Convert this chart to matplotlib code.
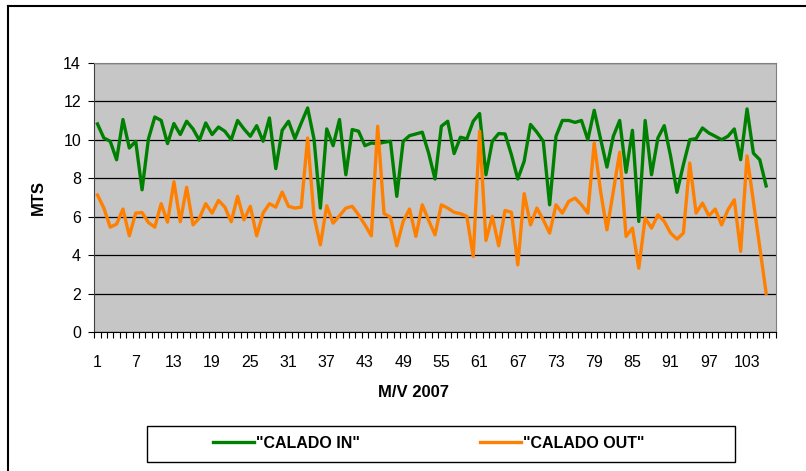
import matplotlib
matplotlib.use("Agg")
import matplotlib.pyplot as plt
from matplotlib.lines import Line2D
from matplotlib.patches import Rectangle
from matplotlib.ticker import FixedLocator, NullFormatter

plt.rcParams["font.family"] = ["Liberation Sans", "DejaVu Sans"]

# values, one per M/V (1..106)
calado_in = [
    10.82, 10.09, 9.92, 8.96, 11.05, 9.57, 9.92, 7.40, 10.04, 11.18,
    11.00, 9.80, 10.84, 10.27, 10.96, 10.56, 9.97, 10.87, 10.27, 10.66,
    10.44, 10.00, 11.00, 10.56, 10.18, 10.73, 9.92, 11.13, 8.50, 10.49,
    10.96, 10.06, 10.87, 11.65, 10.04, 6.45, 10.56, 9.69, 11.05, 8.18,
    10.53, 10.44, 9.69, 9.83, 9.80, 9.87, 9.92, 7.06, 9.92, 10.21,
    10.30, 10.39, 9.31, 7.96, 10.70, 10.96, 9.28, 10.13, 10.04, 10.96,
    11.36, 8.18, 9.92, 10.32, 10.30, 9.22, 7.96, 8.88, 10.79, 10.39,
    9.92, 6.62, 10.18, 11.00, 11.00, 10.90, 11.00, 10.00, 11.53, 10.04,
    8.58, 10.18, 11.00, 8.31, 10.49, 5.76, 11.00, 8.18, 10.09, 10.73,
    9.14, 7.27, 8.70, 10.00, 10.06, 10.61, 10.35, 10.18, 10.00, 10.18,
    10.56, 8.96, 11.60, 9.30, 8.96, 7.60,
]
calado_out = [
    7.13, 6.45, 5.46, 5.62, 6.40, 5.01, 6.19, 6.22, 5.70, 5.46,
    6.68, 5.72, 7.82, 5.74, 7.53, 5.58, 5.93, 6.68, 6.19, 6.85,
    6.50, 5.74, 7.06, 5.84, 6.54, 5.01, 6.19, 6.68, 6.50, 7.28,
    6.54, 6.45, 6.50, 10.09, 6.02, 4.54, 6.57, 5.67, 6.05, 6.45,
    6.54, 6.10, 5.58, 5.01, 10.70, 6.16, 5.98, 4.49, 5.76, 6.40,
    4.98, 6.62, 5.81, 5.06, 6.62, 6.45, 6.23, 6.16, 6.02, 3.94,
    10.44, 4.77, 6.02, 4.49, 6.33, 6.23, 3.50, 7.20, 5.58, 6.45,
    5.84, 5.15, 6.62, 6.19, 6.80, 6.97, 6.62, 6.19, 9.83, 7.32,
    5.32, 7.32, 9.35, 4.98, 5.41, 3.33, 5.93, 5.41, 6.10, 5.76,
    5.15, 4.84, 5.15, 8.79, 6.19, 6.71, 6.05, 6.40, 5.58, 6.36,
    6.88, 4.20, 9.16, 6.78, 4.41, 2.03,
]
n_categories = 107  # axis has one empty slot after the last M/V
x_labels = list(range(1, 104, 6))
y_ticks = list(range(0, 15, 2))

W, H = 806, 471
fig = plt.figure(figsize=(W / 100, H / 100), dpi=100)

# plot area in pixels: left 94, right 776, top 63, bottom 332
ax = fig.add_axes([94.3 / W, 1 - 332.3 / H, (775.7 - 94.3) / W, (332.3 - 62.7) / H])
ax.set_facecolor("#c6c6c6")

x = list(range(1, len(calado_in) + 1))
l_in, = ax.plot(x, calado_in, color="#008000", lw=2.4, label='"CALADO IN"')
l_out, = ax.plot(x, calado_out, color="#ff8000", lw=2.4, label='"CALADO OUT"')

ax.set_xlim(0.5, n_categories + 0.5)
ax.set_ylim(0, 14)
ax.set_yticks(y_ticks)
ax.yaxis.grid(True, color="black", lw=0.9)
ax.set_axisbelow(True)

ax.xaxis.set_major_locator(FixedLocator(x_labels))
ax.xaxis.set_minor_locator(FixedLocator([i + 0.5 for i in range(0, n_categories + 1)]))
ax.xaxis.set_minor_formatter(NullFormatter())
ax.tick_params(axis="x", which="major", length=0, pad=16, labelsize=11.5)
ax.tick_params(axis="x", which="minor", length=4.5, width=0.8, direction="out")
ax.tick_params(axis="y", length=4.5, width=0.8, pad=5, labelsize=11.5)

for side in ("top", "right"):
    ax.spines[side].set_color("#808080")
ax.spines["left"].set_color("#404040")
ax.spines["bottom"].set_color("black")

fig.text(38 / W, 1 - 197.5 / H, "MTS", rotation=90, ha="center", va="center",
         fontsize=12, fontweight="bold")
fig.text(414 / W, 1 - 392.7 / H, "M/V 2007", ha="center", va="center",
         fontsize=12, fontweight="bold")

# legend box with the two entries placed where the reference has them
fig.add_artist(Rectangle((147 / W, 1 - 462 / H), (735 - 147) / W, (462 - 426) / H,
                         transform=fig.transFigure, fill=False, edgecolor="black", lw=1.0))
leg_y = 1 - 443 / H
for handle, x_px in ((l_in, 213), (l_out, 480)):
    fig.legend(handles=[handle], loc="center left", bbox_to_anchor=(x_px / W, leg_y),
               frameon=False, borderpad=0, borderaxespad=0,
               prop={"weight": "bold", "size": 11.5},
               handlelength=2.55, handletextpad=0.15)

# chart-area border (cropped at right and bottom in the reference)
fig.add_artist(Line2D([8 / W, 8 / W], [0, 1 - 5.7 / H], color="black", lw=1.5))
fig.add_artist(Line2D([8 / W, 1], [1 - 5.7 / H, 1 - 5.7 / H], color="black", lw=1.5))

fig.savefig("out.png", dpi=100)
